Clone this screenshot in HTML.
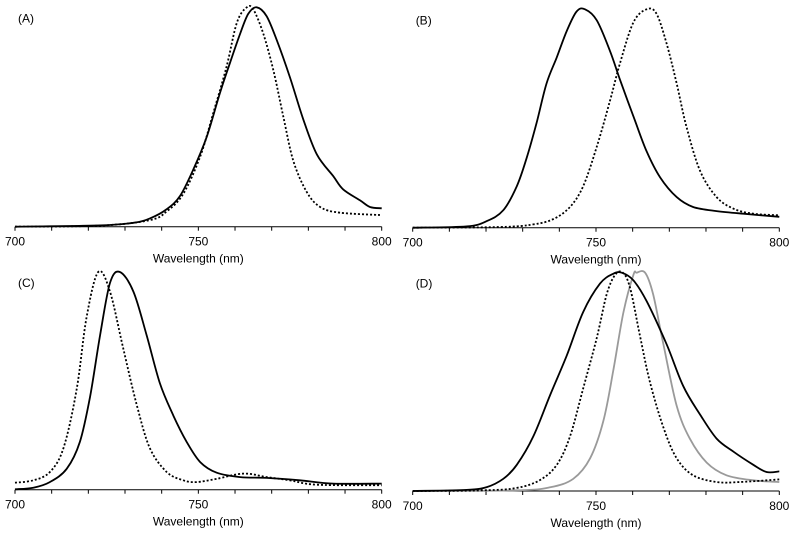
<!DOCTYPE html>
<html><head><meta charset="utf-8"><style>
html,body{margin:0;padding:0;background:#fff;}
svg{display:block;font-family:"Liberation Sans",Arial,sans-serif;}
</style></head><body>
<svg id="fig" width="796" height="537" viewBox="0 0 796 537"></svg>
<script>
const xTicks = [700, 710, 720, 730, 740, 750, 760, 770, 780, 790, 800];
const xTickLabels = ["700", "750", "800"];
const panelLabels = ["(A)", "(B)", "(C)", "(D)"];

const aSolidNm = [700,723.2,732.3,736.8,741.4,745,748.6,752.3,755.9,758.6,761.4,763.6,765.9,768.6,771.4,775,778.6,782.3,786.8,789.5,794.1,796.8,800];
const aSolidI  = [0,.006,.018,.038,.08,.14,.26,.41,.61,.745,.88,.97,1.0,.96,.85,.68,.49,.33,.23,.17,.12,.09,.084];
const aDotNm = [700,723.2,736.8,741.4,745.9,750.5,754.1,757.7,760.5,763.2,765,767.7,770.5,773.2,775.9,779.5,783.2,788.6,800];
const aDotI  = [0,.005,.03,.07,.15,.32,.52,.73,.93,1.0,.99,.88,.71,.5,.30,.16,.09,.064,.053];

const bSolidNm = [700,714.7,720.2,724.7,728.4,731.1,733.8,736.5,739.3,742,744.7,747,750.2,753.8,756.5,760.2,763.8,767.5,772,776.5,782.9,790.2,800];
const bSolidI  = [0,.006,.03,.08,.19,.32,.48,.66,.78,.9,.99,1.0,.95,.81,.68,.51,.35,.23,.14,.095,.076,.064,.05];
const bDotNm = [700,723.8,732.9,738.4,742.9,746.5,750.2,753.8,756.5,760.2,763.8,766.5,769.3,772,774.7,778.4,782.9,787.5,792.9,800];
const bDotI  = [0,.003,.015,.04,.095,.19,.37,.58,.75,.94,1.0,.98,.84,.66,.46,.26,.14,.087,.064,.057];

const cSolidNm = [700,705,709.5,714.1,717.7,720.5,723.2,725.9,728.6,732.3,735.9,739.5,743.2,746.8,750.5,755,761.4,768.6,777.7,786.8,800];
const cSolidI  = [.002,.009,.035,.096,.22,.43,.71,.95,1.0,.91,.71,.49,.34,.22,.127,.078,.058,.054,.043,.028,.028];
const cDotNm = [700,705,709.5,713.2,716.8,719.5,722.7,725.9,729.5,733.2,736.8,741.4,745.9,749.5,755,762.3,768.6,775,782.3,800];
const cDotI  = [.032,.043,.081,.19,.46,.79,1.0,.91,.65,.39,.19,.081,.043,.035,.05,.074,.058,.043,.023,.02];

const dSolidNm = [700,714.7,720.2,724.7,728.4,732.9,737.5,742,746.5,751.1,754.7,757,760.2,763.8,769.3,773.8,778.4,782.9,787.5,792.9,796.5,800];
const dSolidI  = [0,.005,.018,.056,.12,.25,.44,.62,.82,.95,.995,1.0,.965,.87,.67,.48,.35,.24,.18,.12,.087,.09];
const dDotNm = [700,719.3,728.4,734.7,739.3,742.9,746.5,750.2,752.9,755.2,757.3,759.3,762,764.7,768.4,772,776.5,782.9,789.3,800];
const dDotI  = [0,.003,.014,.05,.12,.25,.47,.70,.9,.99,1.0,.93,.71,.5,.29,.15,.072,.041,.041,.053];
const dGrayNm = [700,728.4,737.5,743.8,748.4,752,754.7,757.5,760.2,761.1,763.4,765.6,768.4,772,775.6,780.2,785.6,792.9,800];
const dGrayI  = [0,.003,.017,.056,.15,.32,.55,.82,.99,1.0,1.0,.9,.67,.39,.24,.13,.072,.049,.041];

const panels = [
  {id:"a", x0:15, x1:381.7, y0:226.7, yt:7.3, series:[[aDotNm,aDotI,"dot"],[aSolidNm,aSolidI,"solid"]]},
  {id:"b", x0:412.7, x1:779.3, y0:227.7, yt:9.3, series:[[bDotNm,bDotI,"dot"],[bSolidNm,bSolidI,"solid"]]},
  {id:"c", x0:15, x1:381.7, y0:489.7, yt:272, series:[[cDotNm,cDotI,"dot"],[cSolidNm,cSolidI,"solid"]]},
  {id:"d", x0:412.7, x1:779.3, y0:491, yt:272.7, series:[[dGrayNm,dGrayI,"gray"],[dDotNm,dDotI,"dot"],[dSolidNm,dSolidI,"solid"]]}
];
const NS = "http://www.w3.org/2000/svg";
const svg = document.getElementById("fig");
function mk(tag, attrs, parent){const e=document.createElementNS(NS,tag);for(const k in attrs)e.setAttribute(k,attrs[k]);(parent||svg).appendChild(e);return e;}
function smooth(pts){
  let d="M"+pts[0][0].toFixed(1)+","+pts[0][1].toFixed(1);
  for(let i=0;i<pts.length-1;i++){
    const p0=pts[Math.max(0,i-1)],p1=pts[i],p2=pts[i+1],p3=pts[Math.min(pts.length-1,i+2)];
    const c1=[p1[0]+(p2[0]-p0[0])/6,p1[1]+(p2[1]-p0[1])/6];
    const c2=[p2[0]-(p3[0]-p1[0])/6,p2[1]-(p3[1]-p1[1])/6];
    d+="C"+c1.map(v=>v.toFixed(1)).join(",")+" "+c2.map(v=>v.toFixed(1)).join(",")+" "+p2[0].toFixed(1)+","+p2[1].toFixed(1);
  }
  return d;
}

panels.forEach((p,pi)=>{
  const g = mk("g",{});
  
  
  const xs = nm => p.x0 + (nm-700)/100*(p.x1-p.x0);
  const ys = v => p.y0 - v*(p.y0-p.yt);
  const axis = mk("line",{x1:p.x0,x2:p.x1,y1:p.y0,y2:p.y0,stroke:"#000","stroke-width":1},g);
  
  
  xTicks.forEach(t=>{
    const tk = mk("line",{x1:xs(t),x2:xs(t),y1:p.y0,y2:p.y0+4,stroke:"#000","stroke-width":1},g);
    
    
  });
  xTickLabels.forEach(l=>{
    const tx = mk("text",{x:xs(+l),y:p.y0+19,"font-size":12,"text-anchor":"middle",fill:"#000"},g);
    tx.textContent = l;
    
    
  });
  const title = mk("text",{x:(p.x0+p.x1)/2,y:p.y0+36,"font-size":12,"text-anchor":"middle",fill:"#000"},g);
  title.textContent = "Wavelength (nm)";
  
  
  const lab = mk("text",{x:p.x0+3,y:p.yt+15,"font-size":12,fill:"#000"},g);
  lab.textContent = panelLabels[pi];
  
  
  p.series.forEach(s=>{
    const [nm,iv,style]=s;
    const pts = nm.map((n,i)=>[xs(n),ys(iv[i])]);
    const attrs = {d:smooth(pts),fill:"none","stroke-width":1.8,"stroke-linejoin":"round"};
    if(style==="dot"){attrs.stroke="#000";attrs["stroke-dasharray"]="2,2";}
    else if(style==="gray"){attrs.stroke="#9a9a9a";}
    else attrs.stroke="#000";
    const path = mk("path",attrs,g);
    
    
  });
});
</script>
</body></html>
